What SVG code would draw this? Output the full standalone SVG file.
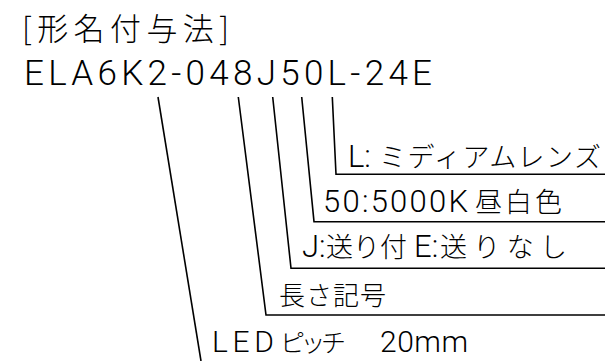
<svg xmlns="http://www.w3.org/2000/svg" width="605" height="361" viewBox="0 0 605 361">
<style>
.lat{font-family:Roboto,"Noto Sans CJK JP",sans-serif;font-weight:300;fill:#000}
.jp{font-family:"Noto Sans CJK JP",sans-serif;font-weight:300;fill:#000}
.ln{fill:none;stroke:#000;stroke-width:1.6;stroke-linejoin:miter}
</style>
<rect width="605" height="361" fill="#fff"/>
<g id="title"><text class="jp" x="22" y="40" font-size="31" textLength="207">[形名付与法]</text></g>
<g id="model"><text class="lat" x="24" y="85" font-size="35" textLength="408">ELA6K2-048J50L-24E</text></g>
<g id="connectors">
<polyline class="ln" points="158,97 201,361"/>
<polyline class="ln" points="238.3,97 266,315 605,315"/>
<polyline class="ln" points="272.7,97 291,268.3 605,268.3"/>
<polyline class="ln" points="301.7,97 314,221.7 605,221.7"/>
<polyline class="ln" points="332.3,97 336,174.3 605,174.3"/>
</g>
<g id="lens"><text y="167"><tspan class="lat" x="348" font-size="31">L:</tspan><tspan class="jp" x="379" font-size="27" textLength="222">ミディアムレンズ</tspan></text></g>
<g id="color"><text y="212"><tspan class="lat" x="323" font-size="31" textLength="145">50:5000K</tspan><tspan class="jp" x="475" font-size="27" textLength="87">昼白色</tspan></text></g>
<g id="feed"><text y="257"><tspan class="lat" x="302" font-size="31">J:</tspan><tspan class="jp" x="326" font-size="27" textLength="81">送り付</tspan><tspan class="lat" x="414" font-size="31">E:</tspan><tspan class="jp" x="440" font-size="27" textLength="127">送りなし</tspan></text></g>
<g id="length"><text class="jp" x="279" y="305" font-size="26" textLength="107">長さ記号</text></g>
<g id="pitch"><text y="352"><tspan class="lat" x="212" font-size="30" textLength="62">LED</tspan><tspan class="jp" x="280" font-size="25" textLength="66">ピッチ</tspan><tspan class="lat" x="380" font-size="30" textLength="88">20mm</tspan></text></g>
</svg>
